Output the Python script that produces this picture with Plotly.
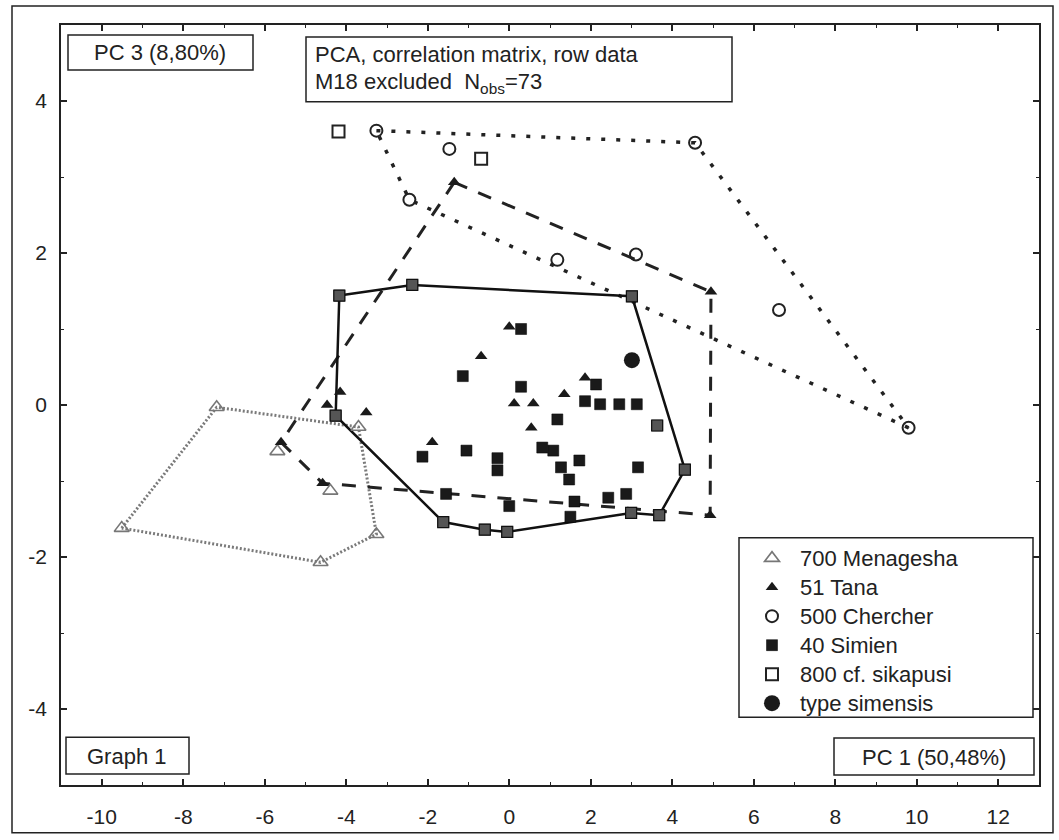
import plotly.graph_objects as go

# ---------------- data ----------------
men_x = [-9.51, -7.18, -3.70, -3.26, -4.63, -5.69, -4.39]
men_y = [-1.62, -0.03, -0.29, -1.70, -2.07, -0.61, -1.13]
men_hull = [0, 1, 2, 3, 4]

tana_x = [-1.35, 4.95, 4.93, -4.58, -5.60, 0.00, -0.69, -4.15, -4.47, -3.51, 0.12, 0.59, 0.54, -1.89, 1.86, 1.35]
tana_y = [2.93, 1.49, -1.45, -1.03, -0.49, 1.03, 0.64, 0.17, 0.00, -0.10, 0.02, 0.02, -0.30, -0.49, 0.36, 0.14]
tana_hull = [0, 1, 2, 3, 4]

cher_x = [-3.26, 4.56, 9.80, -2.45, -1.47, 1.18, 3.11, 6.62]
cher_y = [3.61, 3.45, -0.30, 2.70, 3.37, 1.91, 1.98, 1.25]
cher_hull = [0, 1, 2, 3]

sim_x = [-4.17, -2.38, 3.01, 4.31, 3.68, 2.99, -0.05, -0.60, -1.62, -4.26,
         0.29, -1.14, 0.29, 2.13, 1.86, 2.23, 2.70, 3.13, 1.18, -1.05, -0.29, -0.29,
         0.81, 1.08, 1.72, 1.27, 3.16, 1.47, -2.13, 2.87, 2.43, 1.60, 1.50, -1.55, 0.00, 3.63]
sim_y = [1.44, 1.58, 1.43, -0.85, -1.45, -1.42, -1.67, -1.64, -1.54, -0.14,
         1.00, 0.38, 0.24, 0.27, 0.05, 0.01, 0.01, 0.01, -0.19, -0.60, -0.70, -0.86,
         -0.56, -0.60, -0.73, -0.82, -0.82, -0.98, -0.68, -1.17, -1.22, -1.27, -1.47, -1.17, -1.33, -0.27]
sim_hull = [0, 1, 2, 3, 4, 5, 6, 7, 8, 9]
sim_gray = [0, 1, 2, 3, 4, 5, 6, 7, 8, 9, 35]

sika_x = [-4.19, -0.69]
sika_y = [3.60, 3.24]

type_x = [3.01]
type_y = [0.59]

legend_names = ["700 Menagesha", "51 Tana", "500 Chercher", "40 Simien", "800 cf. sikapusi", "type simensis"]

x_tickvals = [-10, -8, -6, -4, -2, 0, 2, 4, 6, 8, 10, 12]
x_ticktext = ["-10", "-8", "-6", "-4", "-2", "0", "2", "4", "6", "8", "10", "12"]
y_tickvals = [-4, -2, 0, 2, 4]
y_ticktext = ["-4", "-2", "0", "2", "4"]

# ---------------- helpers (layout positions in pixels -> paper) ----------------
W, H = 1059, 840
L, R, T, B = 61, 20, 25, 53
PW, PH = W - L - R, H - T - B


def px(x):
    return (x - L) / PW


def py(y):
    return (H - B - y) / PH


def closed(xs, ys, idx):
    return [xs[i] for i in idx] + [xs[idx[0]]], [ys[i] for i in idx] + [ys[idx[0]]]


def lg(name):
    return '<span style="font-size:22px">' + name + '</span>'


FONT = "Arial, Liberation Sans, sans-serif"
fig = go.Figure()

# hulls
hx, hy = closed(men_x, men_y, men_hull)
fig.add_trace(go.Scatter(x=hx, y=hy, mode="lines", showlegend=False, hoverinfo="skip",
                         line=dict(color="#7a7a7a", width=3, dash="2px,2px")))
hx, hy = closed(cher_x, cher_y, cher_hull)
fig.add_trace(go.Scatter(x=hx, y=hy, mode="lines", showlegend=False, hoverinfo="skip",
                         line=dict(color="#222", width=3.5, dash="4px,11px")))
hx, hy = closed(tana_x, tana_y, tana_hull)
fig.add_trace(go.Scatter(x=hx, y=hy, mode="lines", showlegend=False, hoverinfo="skip",
                         line=dict(color="#222", width=3, dash="14px,12px")))
hx, hy = closed(sim_x, sim_y, sim_hull)
fig.add_trace(go.Scatter(x=hx, y=hy, mode="lines", showlegend=False, hoverinfo="skip",
                         line=dict(color="#111", width=2.5)))

# markers
fig.add_trace(go.Scatter(x=men_x, y=men_y, mode="markers", name=lg(legend_names[0]), legendrank=1,
                         marker=dict(symbol="triangle-up-open", size=13, color="#777",
                                     line=dict(width=1.6, color="#777"))))
fig.add_trace(go.Scatter(x=sim_x, y=sim_y, mode="markers", name=lg(legend_names[3]), legendrank=4,
                         marker=dict(symbol="square", size=11, color="#1a1a1a",
                                     line=dict(width=0.5, color="#000"))))
fig.add_trace(go.Scatter(x=[sim_x[i] for i in sim_gray], y=[sim_y[i] for i in sim_gray],
                         mode="markers", showlegend=False,
                         marker=dict(symbol="square", size=11, color="#555",
                                     line=dict(width=1.2, color="#111"))))
fig.add_trace(go.Scatter(x=tana_x, y=tana_y, mode="markers", name=lg(legend_names[1]), legendrank=2,
                         marker=dict(symbol="triangle-up", size=11, color="#1a1a1a")))
fig.add_trace(go.Scatter(x=cher_x, y=cher_y, mode="markers", name=lg(legend_names[2]), legendrank=3,
                         marker=dict(symbol="circle-open", size=12, color="#222",
                                     line=dict(width=2, color="#222"))))
fig.add_trace(go.Scatter(x=sika_x, y=sika_y, mode="markers", name=lg(legend_names[4]), legendrank=5,
                         marker=dict(symbol="square-open", size=12, color="#222",
                                     line=dict(width=2, color="#222"))))
fig.add_trace(go.Scatter(x=type_x, y=type_y, mode="markers", name=lg(legend_names[5]), legendrank=6,
                         marker=dict(symbol="circle", size=16, color="#1a1a1a")))

# boxes (shapes) and texts
shapes = []


def box(x0, y0, x1, y1, w=1.5):
    shapes.append(dict(type="rect", xref="paper", yref="paper",
                       x0=px(x0), x1=px(x1), y0=py(y1), y1=py(y0),
                       line=dict(color="#222", width=w), fillcolor="rgba(0,0,0,0)", layer="above"))


box(12, 6, 1053, 835, 1.5)        # outer frame
box(68, 35, 253, 70)               # PC 3
box(306, 37, 732, 102)             # PCA text
box(66, 739, 189, 776)             # Graph 1
box(834, 740, 1034, 777)           # PC 1
box(739, 539, 1033, 719)           # legend

annotations = []


def text(t, x, y, xanchor="center"):
    annotations.append(dict(text=t, x=px(x), y=py(y), xref="paper", yref="paper",
                            xanchor=xanchor, yanchor="middle", showarrow=False,
                            font=dict(family=FONT, size=22, color="#222")))


text("PC 3 (8,80%)", 160, 53)
text("PCA, correlation matrix, row data", 313, 55, "left")
text("M18 excluded  N<sub>obs</sub>=73", 313, 83, "left")
text("Graph 1", 127, 758)
text("PC 1 (50,48%)", 934, 759)

axis_common = dict(showgrid=False, zeroline=False, showline=True, linecolor="#222", linewidth=1.5,
                   mirror="ticks", ticks="inside", ticklen=6, tickwidth=1.5, tickcolor="#222",
                   tickfont=dict(family=FONT, size=21, color="#222"),
                   minor=dict(ticks="inside", ticklen=3, tickwidth=1, tickcolor="#222", dtick=1))

fig.update_xaxes(range=[-11, 13], tickmode="array", tickvals=x_tickvals, ticktext=x_ticktext,
                 ticklabelstandoff=12, **axis_common)
fig.update_yaxes(range=[-5, 5], tickmode="array", tickvals=y_tickvals, ticktext=y_ticktext,
                 ticklabelstandoff=8, **axis_common)
fig.update_xaxes(minor=dict(tickmode="array", tickvals=list(range(-11, 14))))
fig.update_yaxes(minor=dict(tickmode="array", tickvals=list(range(-5, 6))))

fig.update_layout(
    width=W, height=H,
    margin=dict(l=L, r=R, t=T, b=B),
    paper_bgcolor="white", plot_bgcolor="white",
    font=dict(family=FONT, size=21, color="#222"),
    shapes=shapes, annotations=annotations,
    showlegend=True,
    legend=dict(x=px(744), y=py(540), xanchor="left", yanchor="top",
                bgcolor="rgba(0,0,0,0)", borderwidth=0, itemwidth=46,
                font=dict(family=FONT, size=20, color="#222"),
                itemsizing="trace", tracegroupgap=0),
)

fig.write_html("out.html")
